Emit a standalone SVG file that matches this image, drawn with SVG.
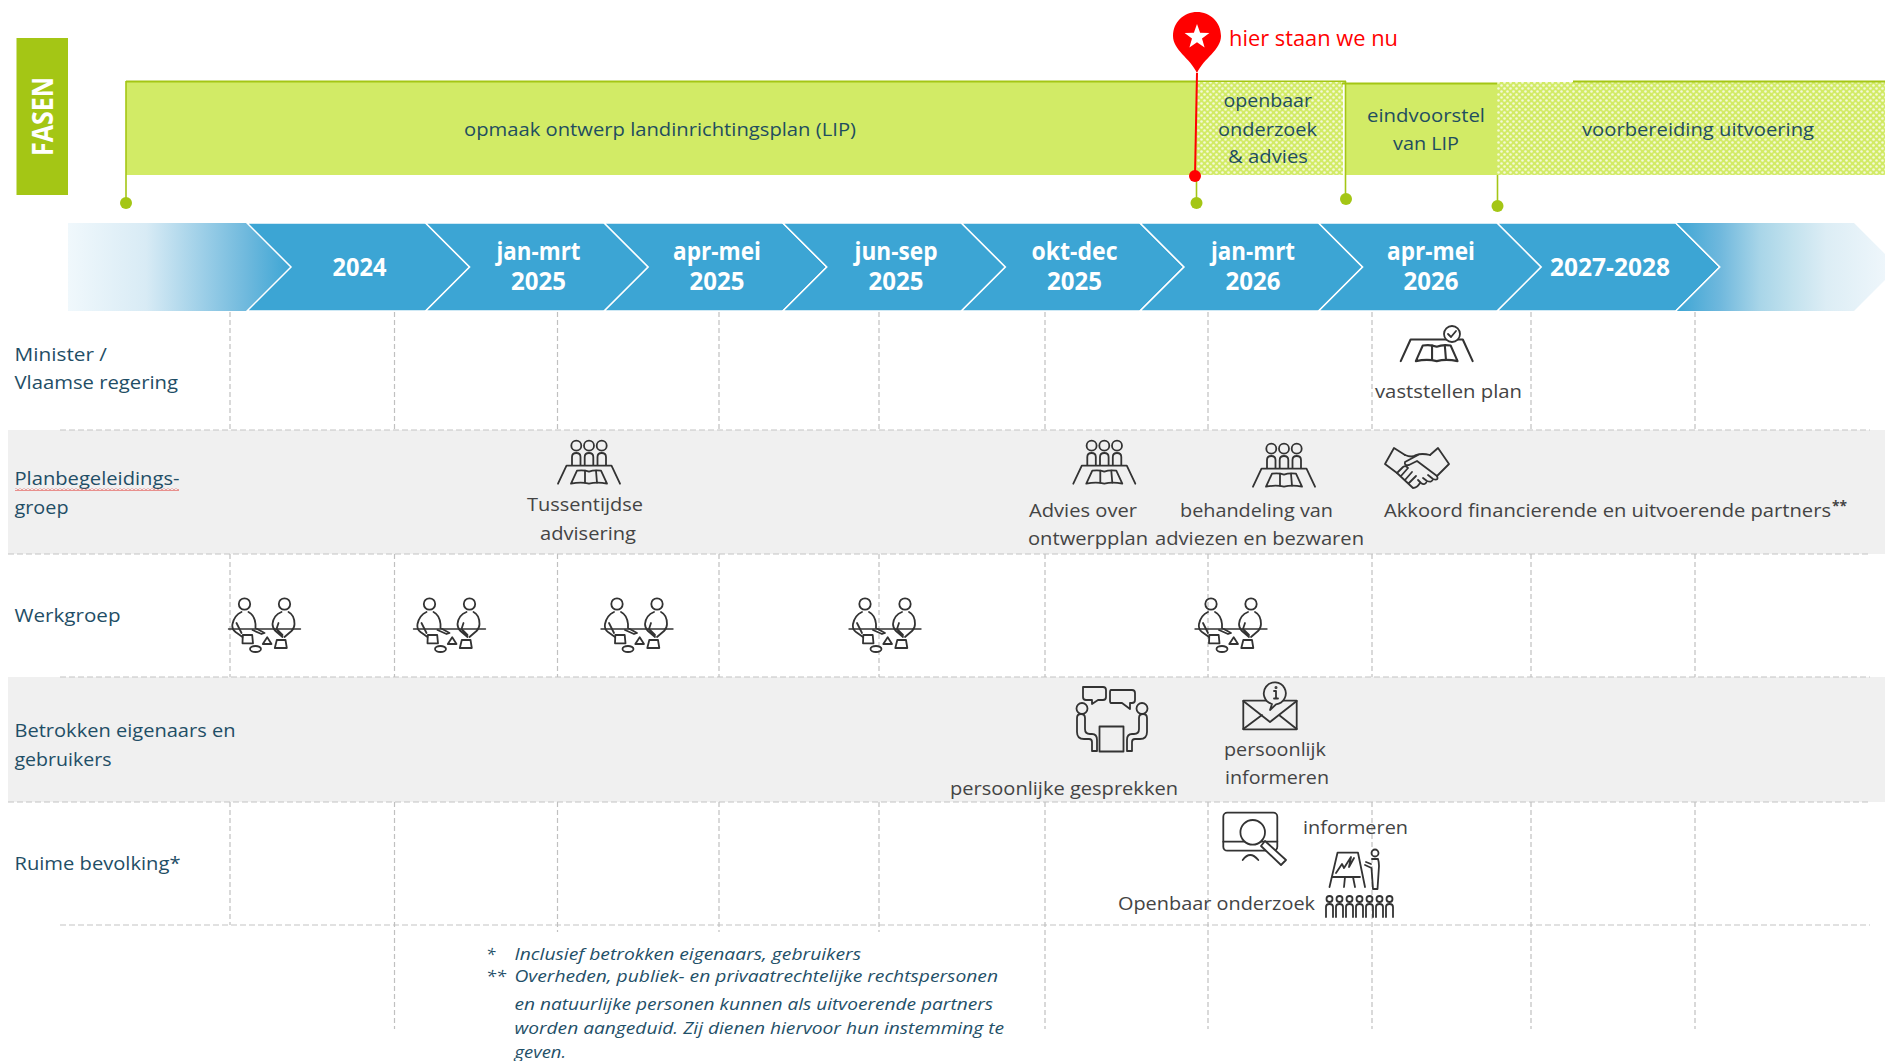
<svg xmlns="http://www.w3.org/2000/svg" width="1885" height="1061" viewBox="0 0 1885 1061">
<style>
text{font-family:"Open Sans","Liberation Sans",sans-serif}
.grid{stroke:#c0c0c0;stroke-width:1.2;stroke-dasharray:5 3;fill:none}
.hgrid{stroke:#c4c4c4;stroke-width:1.2;stroke-dasharray:6 3;fill:none}
.phase{font-size:19px;fill:#1f4e5f}
.row{font-size:19px;fill:#1f4e66}
.note{font-size:19px;fill:#444}
.date{font-size:25px;font-weight:700;fill:#fff}
.foot{font-size:17px;font-style:italic;fill:#1f5068}
.ic{fill:none;stroke:#333;stroke-width:1.8;stroke-linejoin:round;stroke-linecap:round}
.chev{fill:#3ca5d4;stroke:#fff;stroke-width:1.5}
.marker{stroke:#a4c615;stroke-width:1.6;fill:none}
.dot{fill:#a4c615}
</style>
<defs>
<linearGradient id="fadeL" gradientUnits="userSpaceOnUse" x1="68" y1="0" x2="291" y2="0"><stop offset="0" stop-color="#f0f8fc"/><stop offset="0.35" stop-color="#d8ebf5"/><stop offset="0.8" stop-color="#6fb9dd"/><stop offset="1" stop-color="#3ca5d4"/></linearGradient>
<linearGradient id="fadeR" gradientUnits="userSpaceOnUse" x1="1676" y1="0" x2="1885" y2="0"><stop offset="0" stop-color="#3ca5d4"/><stop offset="0.21" stop-color="#6fb8dd"/><stop offset="0.4" stop-color="#a8d5e8"/><stop offset="0.56" stop-color="#c3e2ee"/><stop offset="0.72" stop-color="#dcedf5"/><stop offset="1" stop-color="#eef6fb"/></linearGradient>
<pattern id="dots" width="6" height="6" patternUnits="userSpaceOnUse"><rect width="6" height="6" fill="#d2eb66"/><circle cx="1.500" cy="1.500" r="1.300" fill="#f4fad6"/><circle cx="4.500" cy="4.500" r="1.300" fill="#f4fad6"/></pattern>
<pattern id="squig" width="4" height="3" patternUnits="userSpaceOnUse"><path d="M0,2.500 L2,0.500 L4,2.500" fill="none" stroke="#e0302a" stroke-width="1"/></pattern>
<g id="plan" class="ic"><path d="M-31,18 L-22.500,0 H22.500 L31,18"/><path d="M-18,18 L-12,5 Q-5,4 0,6 Q5,4 12,5 L18,18 Q8,16 0,18 Q-8,16 -18,18 Z"/><path d="M-4,5 V17 M7,5 L8,17"/></g>
<g id="meet"><g class="ic"><circle cx="-12.700" cy="5.700" r="5"/><circle cx="0" cy="5.700" r="5"/><circle cx="12.700" cy="5.700" r="5"/><path d="M-17,25 V17 Q-17,13 -12.700,13 Q-8.500,13 -8.500,17 V25 M-4.300,25 V17 Q-4.300,13 0,13 Q4.300,13 4.300,17 V25 M8.500,25 V17 Q8.500,13 12.700,13 Q17,13 17,17 V25"/></g><use href="#plan" y="25.700"/></g>
<g id="duo" class="ic"><path d="M-36,0 H36" stroke-width="1.400"/><circle cx="-20" cy="-25" r="5.700"/><circle cx="20" cy="-25" r="5.700"/><path d="M-23,-17 Q-30,-14 -32,-5 Q-33,0 -29,3 L-22,8 M-28,-6 L-23,4 M-16,-17 Q-10,-14 -9,-5 L-9,-1 L0,4 L-3,5 L-12,1"/><path d="M17,-17 Q9,-14 8,-5 Q8,-1 11,2 L18,8 M24,-17 Q30,-14 30,-5 Q30,-1 27,2 L20,8 M14,-6 L12,0 L18,6"/><path d="M-21.700,6 H-12.300 L-11.500,14.300 H-22 Z"/><path d="M2.700,8.300 L7,15 H-1.700 Z"/><ellipse cx="-9" cy="20" rx="5.500" ry="3"/><path d="M12.300,11 H21 L22.300,19 H10.300 Z"/></g>
</defs>

<g id="bands"><rect x="8" y="430" width="1877" height="124" fill="#f0f0f0"/><rect x="8" y="677" width="1877" height="125" fill="#f0f0f0"/></g>

<g id="connectors">
<path class="hgrid" d="M60,430 H1870 M8,554 H1870 M60,677 H1870 M8,802 H1870 M60,925 H1870"/>
<path class="grid" d="M230,312 V430 M394.500,312 V430 M557.500,312 V430 M719,312 V430 M879,312 V430 M1045,312 V430 M1208,312 V430 M1372,312 V430 M1531,312 V430 M1695,312 V430"/>
<path class="grid" d="M230,554 V677 M394.500,554 V677 M557.500,554 V677 M719,554 V677 M879,554 V677 M1045,554 V677 M1208,554 V677 M1372,554 V677 M1531,554 V677 M1695,554 V677"/>
<path class="grid" d="M230,802 V925 M394.500,802 V1029 M557.500,802 V932 M719,802 V932 M879,802 V932 M1045,802 V1029 M1208,802 V1029 M1372,802 V1029 M1531,802 V1029 M1695,802 V1029"/>
</g>

<g id="fasen-label"><rect x="16.500" y="38" width="51.500" height="157" fill="#a4c615"/><text transform="translate(53,156) rotate(-90)" font-size="29" font-weight="700" fill="#fff" textLength="79" lengthAdjust="spacingAndGlyphs">FASEN</text></g>

<g id="phase-opmaak"><rect x="126" y="81" width="1071" height="94" fill="#d2eb66"/><path d="M126,81.500 H1346" stroke="#a4c615" stroke-width="2" fill="none"/><path class="marker" d="M126,81 V203"/><circle class="dot" cx="126" cy="203" r="6"/><text class="phase" x="464" y="136" textLength="392" lengthAdjust="spacingAndGlyphs">opmaak ontwerp landinrichtingsplan (LIP)</text></g>
<g id="phase-onderzoek"><rect x="1197" y="82" width="146" height="93" fill="url(#dots)"/><path class="marker" d="M1196.500,175 V203"/><circle class="dot" cx="1196.500" cy="203" r="6"/><text class="phase" x="1223.500" y="107" textLength="88.500" lengthAdjust="spacingAndGlyphs">openbaar</text><text class="phase" x="1218" y="136" textLength="99" lengthAdjust="spacingAndGlyphs">onderzoek</text><text class="phase" x="1228" y="163" textLength="80" lengthAdjust="spacingAndGlyphs">&amp; advies</text></g>
<g id="phase-eindvoorstel"><rect x="1345" y="83" width="152" height="92" fill="#d2eb66"/><path d="M1342,83.500 H1497" stroke="#a4c615" stroke-width="2" fill="none"/><path class="marker" d="M1345.500,81 V199"/><circle class="dot" cx="1346" cy="199" r="6"/><text class="phase" x="1367" y="122" textLength="118" lengthAdjust="spacingAndGlyphs">eindvoorstel</text><text class="phase" x="1393" y="150" textLength="66" lengthAdjust="spacingAndGlyphs">van LIP</text></g>
<g id="phase-uitvoering"><rect x="1497" y="82" width="388" height="93" fill="url(#dots)"/><path d="M1573,81.500 H1885" stroke="#a4c615" stroke-width="2" fill="none"/><path class="marker" d="M1497.500,175 V205"/><circle class="dot" cx="1497.500" cy="206" r="6"/><text class="phase" x="1582" y="136" textLength="232" lengthAdjust="spacingAndGlyphs">voorbereiding uitvoering</text></g>

<g id="pin"><path d="M1197,73 L1195,176" stroke="#f00" stroke-width="2" fill="none"/><circle cx="1195" cy="176" r="6" fill="#f00"/><path d="M1197,73 C1190,58 1173,50 1173,36 C1173,22 1184,12 1197,12 C1210,12 1221,22 1221,36 C1221,50 1204,58 1197,73 Z" fill="#f00"/><polygon points="1197,24 1200.100,32.700 1209.400,33 1202,38.600 1204.600,47.500 1197,42.300 1189.400,47.500 1192,38.600 1184.600,33 1193.900,32.700" fill="#fff"/><text x="1229" y="46" font-size="21" fill="#f00" textLength="169" lengthAdjust="spacingAndGlyphs">hier staan we nu</text></g>

<g id="timeline">
<polygon points="68,223 247,223 291,267 247,311 68,311" fill="url(#fadeL)"/>
<polygon class="chev" points="247,223 425.600,223 469.600,267 425.600,311 247,311 291,267"/>
<polygon class="chev" points="425.600,223 604.200,223 648.200,267 604.200,311 425.600,311 469.600,267"/>
<polygon class="chev" points="604.200,223 782.800,223 826.800,267 782.800,311 604.200,311 648.200,267"/>
<polygon class="chev" points="782.800,223 961.400,223 1005.400,267 961.400,311 782.800,311 826.800,267"/>
<polygon class="chev" points="961.400,223 1140,223 1184,267 1140,311 961.400,311 1005.400,267"/>
<polygon class="chev" points="1140,223 1318.600,223 1362.600,267 1318.600,311 1140,311 1184,267"/>
<polygon class="chev" points="1318.600,223 1497.200,223 1541.200,267 1497.200,311 1318.600,311 1362.600,267"/>
<polygon class="chev" points="1497.200,223 1675.800,223 1719.800,267 1675.800,311 1497.200,311 1541.200,267"/>
<polygon points="1675.800,223 1854,223 1898,267 1854,311 1675.800,311 1719.800,267" fill="url(#fadeR)"/>
<path d="M1675.800,223 L1719.800,267 L1675.800,311" stroke="#fff" stroke-width="1.500" fill="none"/>
<g text-anchor="middle">
<text class="date" x="359.500" y="276" textLength="54" lengthAdjust="spacingAndGlyphs">2024</text>
<text class="date" x="538.500" y="260" textLength="84" lengthAdjust="spacingAndGlyphs">jan-mrt</text><text class="date" x="538.500" y="290" textLength="55" lengthAdjust="spacingAndGlyphs">2025</text>
<text class="date" x="717" y="260" textLength="88" lengthAdjust="spacingAndGlyphs">apr-mei</text><text class="date" x="717" y="290" textLength="55" lengthAdjust="spacingAndGlyphs">2025</text>
<text class="date" x="896" y="260" textLength="83" lengthAdjust="spacingAndGlyphs">jun-sep</text><text class="date" x="896" y="290" textLength="55" lengthAdjust="spacingAndGlyphs">2025</text>
<text class="date" x="1074.500" y="260" textLength="86" lengthAdjust="spacingAndGlyphs">okt-dec</text><text class="date" x="1074.500" y="290" textLength="55" lengthAdjust="spacingAndGlyphs">2025</text>
<text class="date" x="1253" y="260" textLength="84" lengthAdjust="spacingAndGlyphs">jan-mrt</text><text class="date" x="1253" y="290" textLength="55" lengthAdjust="spacingAndGlyphs">2026</text>
<text class="date" x="1431" y="260" textLength="88" lengthAdjust="spacingAndGlyphs">apr-mei</text><text class="date" x="1431" y="290" textLength="55" lengthAdjust="spacingAndGlyphs">2026</text>
<text class="date" x="1610" y="276" textLength="120" lengthAdjust="spacingAndGlyphs">2027-2028</text>
</g>
</g>

<g id="row-minister"><text class="row" x="14.500" y="361" textLength="92.500" lengthAdjust="spacingAndGlyphs">Minister /</text><text class="row" x="14.500" y="389" textLength="163.500" lengthAdjust="spacingAndGlyphs">Vlaamse regering</text></g>
<g id="row-plan"><text class="row" x="14.500" y="484.500" textLength="165" lengthAdjust="spacingAndGlyphs">Planbegeleidings-</text><text class="row" x="14.500" y="513.500" textLength="54" lengthAdjust="spacingAndGlyphs">groep</text><rect x="15" y="488" width="164" height="3" fill="url(#squig)"/></g>
<g id="row-werkgroep"><text class="row" x="14.500" y="621.500" textLength="106" lengthAdjust="spacingAndGlyphs">Werkgroep</text></g>
<g id="row-betrokken"><text class="row" x="14.500" y="737" textLength="221" lengthAdjust="spacingAndGlyphs">Betrokken eigenaars en</text><text class="row" x="14.500" y="765.500" textLength="97" lengthAdjust="spacingAndGlyphs">gebruikers</text></g>
<g id="row-ruime"><text class="row" x="14.500" y="870" textLength="166" lengthAdjust="spacingAndGlyphs">Ruime bevolking*</text></g>

<g id="node-vaststellen"><g transform="translate(1436.700,339.500) scale(1.160,1.200)"><use href="#plan"/></g><circle cx="1452" cy="334" r="8" fill="#fff" stroke="#333" stroke-width="1.800"/><path class="ic" d="M1448,334 L1451,337 L1456,331"/><text class="note" x="1375" y="398" textLength="147" lengthAdjust="spacingAndGlyphs">vaststellen plan</text></g>
<g id="node-tussentijdse"><use href="#meet" x="589" y="440"/><text class="note" x="527" y="511" textLength="116" lengthAdjust="spacingAndGlyphs">Tussentijdse</text><text class="note" x="540" y="539.500" textLength="96" lengthAdjust="spacingAndGlyphs">advisering</text></g>
<g id="node-advies"><use href="#meet" x="1104.300" y="440"/><text class="note" x="1029" y="516.500" textLength="108" lengthAdjust="spacingAndGlyphs">Advies over</text><text class="note" x="1028" y="545" textLength="120" lengthAdjust="spacingAndGlyphs">ontwerpplan</text></g>
<g id="node-behandeling"><use href="#meet" x="1284" y="443"/><text class="note" x="1180" y="516.500" textLength="153" lengthAdjust="spacingAndGlyphs">behandeling van</text><text class="note" x="1155" y="545" textLength="209" lengthAdjust="spacingAndGlyphs">adviezen en bezwaren</text></g>
<g id="node-akkoord"><g class="ic" transform="translate(1417,467)"><path d="M-20,6 L-32,-3 L-23,-19 L-12,-12 M32,-3 L21,-19 L13,-12 M32,-3 L20,9"/><path d="M-12,-12 Q-5,-9 -1,-12 Q5,-14 13,-12"/><path d="M1,-12 L-12,-5 Q-13,-1 -8,-2 L0,-6 L20,9 Q22,14 16,12 L11,8 M16,12 Q15,16 10,14 L6,11 M10,14 Q8,19 4,16 L1,13"/><path d="M-16,9 L-9,1 M-12,13 L-5,5 M-8,16 L-1,9 M-20,6 L-14,0 Q-11,-2 -9,1 M-20,6 L-4,21 Q0,21 3,16"/></g><text class="note" x="1384" y="516.500" textLength="447" lengthAdjust="spacingAndGlyphs">Akkoord financierende en uitvoerende partners</text><text x="1832" y="511" font-size="14" font-weight="700" fill="#444" textLength="15" lengthAdjust="spacingAndGlyphs">**</text></g>
<g id="node-werkgroep-1"><use href="#duo" x="264.500" y="629"/></g>
<g id="node-werkgroep-2"><use href="#duo" x="449.500" y="629"/></g>
<g id="node-werkgroep-3"><use href="#duo" x="637" y="629"/></g>
<g id="node-werkgroep-4"><use href="#duo" x="885" y="629"/></g>
<g id="node-werkgroep-5"><use href="#duo" x="1231" y="629"/></g>
<g id="node-gesprekken"><g class="ic" transform="translate(1112,719)"><circle cx="-30" cy="-10.500" r="5.500"/><circle cx="30" cy="-10.500" r="5.500"/><path d="M-29,-32 H-9 Q-6,-32 -6,-29 V-22 Q-6,-19 -9,-19 H-14 L-20,-15 V-19 H-26 Q-29,-19 -29,-22 Z"/><path d="M-1,-29 H20 Q23,-29 23,-26 V-19 Q23,-16 20,-16 H18 V-10 L10,-16 H-1 Q-2,-16 -2,-19 V-26 Q-2,-29 -1,-29 Z"/><rect x="-12.500" y="7.500" width="24" height="25"/><path d="M-35,-1 Q-35,-5 -31,-5 Q-27,-5 -27,-1 V10 Q-27,15 -22,15 H-20 Q-15,15 -15,21 V32 H-20 V23 Q-20,20 -23,20 H-28 Q-35,20 -35,13 Z"/><path d="M35,-1 Q35,-5 31,-5 Q27,-5 27,-1 V10 Q27,15 22,15 H20 Q15,15 15,21 V32 H20 V23 Q20,20 23,20 H28 Q35,20 35,13 Z"/></g><text class="note" x="950" y="795" textLength="228" lengthAdjust="spacingAndGlyphs">persoonlijke gesprekken</text></g>
<g id="node-persoonlijk"><g class="ic"><rect x="1243.300" y="700.700" width="53.400" height="28.600"/><path d="M1243.300,701 L1270,722 L1296.700,701 M1243.300,729 L1262,715 M1296.700,729 L1279,715"/><path d="M1272,704 L1270,710 L1276,704.300 A11,11 0 1 0 1272,704 Z" fill="#f0f0f0"/><path d="M1276,691 V698 M1274,698.500 H1278 M1274,691 H1276"/><circle cx="1276" cy="687.500" r="0.600"/></g><text class="note" x="1224" y="755.500" textLength="102" lengthAdjust="spacingAndGlyphs">persoonlijk</text><text class="note" x="1225" y="784" textLength="104" lengthAdjust="spacingAndGlyphs">informeren</text></g>
<g id="node-openbaar"><g class="ic"><rect x="1223.300" y="812.700" width="54" height="38" rx="4" fill="#fff"/><path d="M1223.300,841.700 H1277.300"/><path d="M1242.700,860 Q1250,850 1258.300,860"/><circle cx="1252.700" cy="832.300" r="12.300" fill="#fff"/><path d="M1265,841 L1286,860 L1281,865 L1261,846 Z" fill="#fff"/></g><text class="note" x="1118" y="909.500" textLength="197" lengthAdjust="spacingAndGlyphs">Openbaar onderzoek</text></g>
<g id="node-informeren"><g class="ic"><path d="M1329.500,887 L1337.500,852.700 H1358 L1365,887 M1332,877 H1360 M1345,877 L1344,887 M1353,877 L1355,887"/><path d="M1336,873 L1342,864 L1344,868 L1351,857 L1349,867 L1354,858"/><circle cx="1375" cy="853" r="3.500"/><path d="M1372,859 H1378 Q1379,862 1379,866 L1377.500,889 H1373 L1371.500,868 L1365,865 M1371,864 L1366,862"/><circle cx="1329.500" cy="899" r="3"/><circle cx="1339.500" cy="899" r="3"/><circle cx="1349.500" cy="899" r="3"/><circle cx="1359.500" cy="899" r="3"/><circle cx="1369.500" cy="899" r="3"/><circle cx="1379.500" cy="899" r="3"/><circle cx="1389.500" cy="899" r="3"/><path d="M1326,917 V907 Q1326,904 1329.500,904 Q1333,904 1333,907 V917 M1336,917 V907 Q1336,904 1339.500,904 Q1343,904 1343,907 V917 M1346,917 V907 Q1346,904 1349.500,904 Q1353,904 1353,907 V917 M1356,917 V907 Q1356,904 1359.500,904 Q1363,904 1363,907 V917 M1366,917 V907 Q1366,904 1369.500,904 Q1373,904 1373,907 V917 M1376,917 V907 Q1376,904 1379.500,904 Q1383,904 1383,907 V917 M1386,917 V907 Q1386,904 1389.500,904 Q1393,904 1393,907 V917"/></g><text class="note" x="1303" y="833.500" textLength="105" lengthAdjust="spacingAndGlyphs">informeren</text></g>

<g id="footnotes">
<text class="foot" x="486" y="960">*</text><text class="foot" x="514.500" y="960" textLength="346.500" lengthAdjust="spacingAndGlyphs">Inclusief betrokken eigenaars, gebruikers</text>
<text class="foot" x="486" y="982" textLength="20" lengthAdjust="spacingAndGlyphs">**</text><text class="foot" x="514.500" y="982" textLength="483.500" lengthAdjust="spacingAndGlyphs">Overheden, publiek- en privaatrechtelijke rechtspersonen</text>
<text class="foot" x="514.500" y="1010" textLength="478.500" lengthAdjust="spacingAndGlyphs">en natuurlijke personen kunnen als uitvoerende partners</text>
<text class="foot" x="514.500" y="1034" textLength="489.500" lengthAdjust="spacingAndGlyphs">worden aangeduid. Zij dienen hiervoor hun instemming te</text>
<text class="foot" x="514.500" y="1058" textLength="51.500" lengthAdjust="spacingAndGlyphs">geven.</text>
</g>
</svg>
